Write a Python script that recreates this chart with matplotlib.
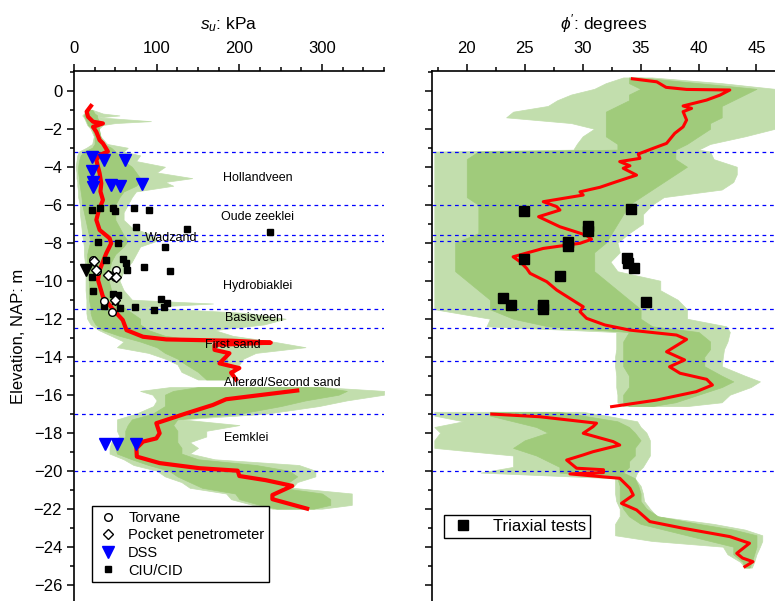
import matplotlib.pyplot as plt
from matplotlib.ticker import MultipleLocator
import numpy as np

plt.rcParams['font.family'] = ['Liberation Sans', 'DejaVu Sans']
plt.rcParams['mathtext.fontset'] = 'custom'
plt.rcParams['mathtext.it'] = 'Liberation Sans:italic'
plt.rcParams['mathtext.rm'] = 'Liberation Sans'

# layer boundaries (elevation, m NAP) and layer names
boundaries = [-3.2, -6.0, -7.6, -7.9, -11.5, -12.5, -14.2, -17.0, -20.0]
layer_names = ['Hollandveen', 'Oude zeeklei', 'Wadzand', 'Hydrobiaklei', 'Basisveen',
               'First sand', 'Allerød/Second sand', 'Eemklei']
layer_x = [222, 222, 118, 222, 218, 192, 252, 208]
layer_y = [-4.58, -6.63, -7.74, -10.28, -11.94, -13.37, -15.4, -18.26]

# ---- su: CPT profiles, outer envelope (lo/hi) and dense core (core_lo/core_hi)
su_band1_z = [-1.0, -1.2, -1.3, -1.4, -1.6, -1.7, -1.8, -2.0, -2.4, -2.8, -3.0, -3.2, -3.4, -3.7,
              -4.0, -4.3, -4.6, -4.8, -5.0, -5.3, -5.6, -6.0, -6.4, -6.8, -7.2, -7.6, -7.9, -8.2,
              -8.6, -9.0, -9.5, -10.0, -10.5, -11.0, -11.2, -11.4, -11.7, -12.0, -12.3, -12.6,
              -12.9, -13.2, -13.5, -13.8, -14.1, -14.4, -14.8, -15.2]
su_band1_lo = [18, 12, 10, 12, 14, 15, 16, 20, 24, 22, 15, 6, 4, 3, 2, 3, 3, 4, 4, 5, 5, 7, 7, 8,
               9, 10, 11, 12, 12, 13, 14, 14, 14, 15, 15, 15, 15, 16, 20, 30, 45, 60, 52, 90,
               110, 125, 130, 150]
su_band1_hi = [22, 35, 55, 30, 93, 50, 35, 30, 32, 40, 65, 60, 80, 75, 110, 100, 143, 110, 120,
               75, 70, 65, 60, 60, 70, 95, 100, 80, 75, 70, 60, 55, 60, 70, 168, 80, 210, 256,
               230, 170, 192, 240, 280, 220, 205, 200, 195, 185]
su_core1_lo = [18, 13, 12, 13, 15, 16, 17, 22, 25, 25, 22, 12, 8, 6, 5, 5, 6, 6, 7, 8, 9, 10, 12,
               14, 16, 18, 20, 18, 16, 16, 17, 18, 18, 18, 19, 20, 20, 22, 26, 35, 55, 80, 100,
               110, 125, 135, 150, 160]
su_core1_hi = [22, 25, 28, 28, 30, 32, 30, 30, 32, 36, 45, 50, 55, 60, 70, 75, 80, 80, 75, 60, 55,
               50, 50, 50, 55, 60, 65, 60, 50, 45, 42, 42, 45, 50, 55, 60, 70, 80, 80, 90, 110,
               160, 170, 180, 185, 185, 190, 185]

su_band2_z = [-15.6, -15.8, -16.0, -16.3, -16.6, -17.0, -17.3, -17.6, -17.9, -18.2, -18.5, -18.8,
              -19.1, -19.4, -19.7, -20.0, -20.3, -20.6, -20.9, -21.2, -21.5, -21.8, -22.0]
su_band2_lo = [116, 80, 95, 100, 96, 75, 52, 52, 52, 55, 45, 43, 43, 60, 72, 100, 110, 130, 140,
               184, 190, 216, 240]
su_band2_hi = [300, 375, 375, 330, 296, 232, 130, 200, 160, 160, 140, 150, 140, 170, 272, 292,
               292, 270, 264, 336, 336, 336, 300]
su_core2_lo = [150, 120, 110, 110, 110, 95, 70, 65, 62, 62, 55, 50, 52, 70, 90, 115, 125, 140,
               155, 195, 200, 225, 245]
su_core2_hi = [300, 330, 320, 280, 250, 200, 125, 120, 125, 125, 125, 130, 130, 150, 220, 260,
               270, 260, 250, 300, 310, 310, 290]

# su: mean profile (NaN = break)
su_mean_z = [-0.8, -1.1, -1.37, -1.63, -1.72, -1.9, -2.16, -2.6, -2.77, -3.2, -3.38, -3.65, -4.35,
             -4.87, -5.3, -5.75, -6.3, -6.8, -7.33, -7.76, -8.03, -8.56, -9.44, -9.96, -10.84,
             -11.5, -12.07, -12.6, -12.95, -13.09, -13.16, -13.26, -13.38, -13.64, -13.82,
             -14.35, -14.6, -14.84, -15.2, np.nan,
             -15.78, -16.24, -16.54, -16.98, -17.5, -18.03, -18.3, -18.47, -18.82, -19.26,
             -19.6, -19.87, -20.0, -20.28, -20.5, -20.8, -21.28, -21.5, -22.0]
su_mean = [20.5, 15.3, 17, 23, 35, 23, 27, 31, 35, 41, 31, 27, 31, 33, 32, 35, 30, 27, 31, 43, 45,
           39, 31, 29, 35, 47, 59, 63.5, 83.5, 111.7, 192, 238, 170, 170, 188, 176, 200, 190, 196,
           np.nan,
           270, 184, 168, 136, 99.6, 103.6, 99.6, 83.5, 75.5, 76, 103.6, 151.8, 198, 200, 232,
           264, 240, 240, 282]

# su: laboratory / field tests
torvane_su = [23, 27.3, 50.6, 49.4, 42.5, 36.5, 45.8]
torvane_z = [-8.92, -9.5, -9.42, -9.83, -9.7, -11.05, -11.63]
pocket_su = [24.5, 27, 41.3, 50.4, 49.4]
pocket_z = [-8.98, -9.46, -9.72, -9.83, -11.04]
dss_su = [22, 36.5, 61.4, 22, 23, 23, 44.6, 55.4, 82.7, 37.3, 52.2, 75.5]
dss_z = [-3.5, -3.62, -3.66, -4.24, -4.82, -5.09, -4.94, -5.0, -4.89, -18.62, -18.62, -18.62]
ciu_su = [22, 31, 46.6, 50, 72.3, 90.4, 75.5, 136.5, 237, 28.5, 53.4, 110.6, 38.5, 59.4, 63.4,
          84.5, 64.7, 116.5, 22.2, 23.3, 47.4, 53.8, 49, 105, 112.4, 108.4, 73.9, 96.4, 36.5, 55.4]
ciu_z = [-6.28, -6.19, -6.19, -6.31, -6.16, -6.28, -7.19, -7.3, -7.42, -7.98, -8.03, -8.2, -8.91,
         -8.84, -9.06, -9.3, -9.42, -9.48, -9.79, -10.56, -10.7, -10.77, -11.07, -10.98, -11.16,
         -11.37, -11.37, -11.54, -11.33, -11.44]

# ---- phi': CPT profiles, outer envelope and dense core
phi_band1_z = [0.7, 0.4, 0.1, -0.2, -0.5, -0.8, -1.1, -1.4, -1.7, -2.0, -2.4, -2.8, -3.1, -3.2,
               -3.6, -4.0, -4.4, -4.8, -5.2, -5.6, -6.0, -6.5, -7.0, -7.5, -8.0, -8.5, -9.0, -9.5,
               -10.0, -10.5, -11.0, -11.5, -12.0, -12.4, -12.7, -13.2, -13.6, -14.0, -14.5,
               -15.0, -15.3, -15.6, -16.0, -16.4, -16.6]
phi_band1_lo = [33.5, 32, 31, 29, 27.8, 27, 24, 23.4, 29, 31, 30, 29.5, 29.2, 17.2, 17.2, 17.2,
                17.2, 17.2, 17.2, 17.2, 17.2, 17.2, 17.2, 17.2, 17.2, 17.2, 17.2, 17.2, 17.2,
                17.2, 17.2, 17.2, 22, 21.7, 32.9, 32.9, 32.9, 32.8, 32.8, 32.9, 32.9, 32.9, 33,
                33, 33.5]
phi_band1_hi = [36, 42, 46.6, 46.6, 46.6, 46.6, 46.6, 46.6, 46.6, 46.6, 44, 41, 40, 41, 41.3,
                43.3, 43.3, 43, 42, 37, 36, 35.2, 35.2, 34, 33, 33.2, 32.4, 33, 36.7, 36.7, 38.2,
                39, 39, 42.4, 42.7, 42.5, 42.2, 42.1, 42, 44, 45.3, 44.5, 42.7, 42, 39]
phi_core1_lo = [34, 34, 35, 34, 34, 33, 32, 32, 32, 32, 32, 33, 33, 21, 20, 20, 20, 20, 20, 20,
                21, 21, 21, 21, 19, 19, 19, 19, 20, 21, 22, 22, 24, 27, 34, 33.5, 33.5, 33.5,
                33.5, 34, 34, 34, 33.5, 33.5, 34]
phi_core1_hi = [35, 40, 45, 44, 43, 42, 42, 42, 41, 41, 40, 39, 38, 38, 38, 39, 38, 37, 36, 35,
                34, 33.5, 33, 32.5, 32, 31, 31, 31, 32, 33, 34, 35, 35, 36, 40, 41, 41, 40.5,
                40.5, 42, 43, 42, 40, 38, 36]

phi_band2_z = [-16.9, -17.1, -17.4, -17.7, -18.0, -18.4, -18.8, -19.2, -19.5, -19.8, -20.1,
               -20.4, -20.8, -21.2, -21.6, -22.0, -22.4, -22.8, -23.1, -23.4, -23.7, -24.0,
               -24.4, -24.8, -25.1]
phi_band2_lo = [17.2, 17.2, 19.7, 17.2, 17.7, 17.2, 17.2, 24, 24, 24, 21.2, 32.8, 32.8, 32.8,
                32.9, 33.2, 33.2, 32.8, 32.8, 32.8, 36, 42.1, 42.5, 43.6, 44]
phi_band2_hi = [30, 32, 34.7, 35, 35.5, 35.8, 35.8, 35.8, 35.5, 35.2, 34.7, 34.5, 35, 35.2, 35.3,
                35.8, 36.4, 41.3, 44, 45.5, 45.5, 45.3, 45, 44.8, 44.6]
phi_core2_lo = [22, 22, 24, 26, 27, 25, 24, 26, 27, 28, 28, 33, 33.2, 33.2, 33.2, 33.5, 34, 35,
                37, 39, 41, 43, 43, 43.8, 44]
phi_core2_hi = [28, 30, 33, 34, 34.5, 35, 34.5, 34.5, 34, 34, 33.5, 34.5, 34.8, 35, 35, 35.5,
                36.5, 40, 43, 45, 45, 45, 44.8, 44.6, 44.4]

# phi': mean profile
phi_mean_z = [0.63, 0.47, 0.18, 0.07, 0.04, -0.23, -0.49, -0.8, -0.93, -1.1, -1.54, -1.9, -2.24,
              -2.77, -3.03, -3.33, -3.56, -3.73, -3.95, -4.08, -4.44, -4.79, -5.08, -5.32, -5.49,
              -5.84, -6.1, -6.28, -6.63, -7.16, -7.6, -7.82, -8.03, -8.3, -8.74, -9.0, -9.35,
              -9.61, -10.05, -10.49, -11.1, -11.37, -11.63, -11.98, -12.33, -12.6, -12.86,
              -13.09, -13.74, -14.17, -14.53, -14.87, -15.19, -15.49, -15.84, -16.28, -16.63,
              np.nan,
              -17.02, -17.16, -17.5, -17.68, -18.03, -18.47, -18.65, -19.0, -19.17, -19.44,
              -19.87, -19.95, -20.1, -20.17, -20.4, -20.93, -21.28, -21.72, -22.07, -22.68,
              -23.03, -23.47, -23.82, -24.35, -24.6, -24.79, -25.05]
phi_mean = [34.29, 36.4, 37.2, 38.97, 42.7, 41.85, 40.7, 38.67, 39.4, 38.67, 38.97, 38.67, 37.95,
            37.24, 36.09, 34.8, 34.94, 33.2, 34.08, 33.5, 34.65, 32.9, 31.5, 29.77, 30.05, 26.6,
            27.76, 28.04, 26.2, 28.04, 30.3, 30.77, 29.77, 26.6, 24.0, 24.6, 25.17, 25.46, 26.9,
            27.76, 29.34, 30.05, 29.77, 30.34, 31.92, 34.08, 38.1, 38.97, 37.24, 38.8, 37.5,
            38.4, 40.7, 41.2, 39.8, 36.4, 32.5,
            np.nan,
            22.16, 26.3, 31.2, 30.9, 30.05, 32.64, 33.2, 30.9, 30.05, 28.62, 29.48, 31.8, 31.8,
            28.9, 33.2, 34.08, 34.37, 33.35, 34.66, 35.8, 38.67, 42.7, 44.4, 43.3, 43.8, 44.7,
            44.0]

# phi': triaxial tests
triax_phi = [24.94, 34.16, 30.48, 30.5, 28.7, 28.7, 24.94, 33.86, 33.9, 34.45, 28.04, 23.1,
             23.8, 26.6, 26.6, 35.5]
triax_z = [-6.33, -6.24, -7.1, -7.38, -7.98, -8.18, -8.86, -8.82, -9.08, -9.35, -9.75, -10.93,
           -11.3, -11.26, -11.48, -11.1]

green = '#a0cb7b'
green_light = '#c2dead'
ytop, ybot = 1.04, -26.86

fig = plt.figure(figsize=(7.75, 6.01), dpi=100)
ax1 = fig.add_axes([74 / 775, 0, 310 / 775, 530 / 601])
ax2 = fig.add_axes([432 / 775, 0, 343 / 775, 530 / 601])

# left panel: undrained shear strength
ax1.fill_betweenx(su_band1_z, su_band1_lo, su_band1_hi, color=green_light, lw=0.5, zorder=1)
ax1.fill_betweenx(su_band2_z, su_band2_lo, su_band2_hi, color=green_light, lw=0.5, zorder=1)
ax1.fill_betweenx(su_band1_z, su_core1_lo, su_core1_hi, color=green, lw=0.5, zorder=1)
ax1.fill_betweenx(su_band2_z, su_core2_lo, su_core2_hi, color=green, lw=0.5, zorder=1)
ax1.plot(su_mean, su_mean_z, color='red', lw=3, zorder=3)
for b in boundaries:
    ax1.axhline(b, color='blue', lw=0.9, ls=(0, (3, 3)), zorder=2)
for name, x, y in zip(layer_names, layer_x, layer_y):
    ax1.text(x, y, name, fontsize=9, ha='center', va='center', zorder=4)

ax1.plot(torvane_su, torvane_z, 'o', mfc='white', mec='black', ms=5.5, mew=1, zorder=5,
         label='Torvane')
ax1.plot(pocket_su, pocket_z, 'D', mfc='white', mec='black', ms=5, mew=1, zorder=5,
         label='Pocket penetrometer')
ax1.plot(dss_su, dss_z, 'v', color='blue', ms=9, zorder=5, label='DSS')
ax1.plot(ciu_su, ciu_z, 's', color='black', ms=4.5, zorder=4, label='CIU/CID')
ax1.plot([14], [-9.44], 'v', color='black', ms=9, zorder=4)

ax1.set_xlim(0, 375)
ax1.xaxis.set_major_locator(MultipleLocator(100))
ax1.xaxis.set_minor_locator(MultipleLocator(25))
ax1.set_xlabel(r'$s_u$: kPa', fontsize=12.5, labelpad=8)
leg1 = ax1.legend(loc='lower left', bbox_to_anchor=(0.057, 0.036), borderaxespad=0,
                  fontsize=10.5, fancybox=False, edgecolor='black', framealpha=1,
                  labelspacing=0.25, handletextpad=0.6, borderpad=0.3, handlelength=1.6)
leg1.get_frame().set_linewidth(1)
ax1.set_ylabel('Elevation, NAP: m', fontsize=12)
ax1.yaxis.set_label_coords(-0.155, 0.5)

# right panel: friction angle
ax2.fill_betweenx(phi_band1_z, phi_band1_lo, phi_band1_hi, color=green_light, lw=0.5, zorder=1)
ax2.fill_betweenx(phi_band2_z, phi_band2_lo, phi_band2_hi, color=green_light, lw=0.5, zorder=1)
ax2.fill_betweenx(phi_band1_z, phi_core1_lo, phi_core1_hi, color=green, lw=0.5, zorder=1)
ax2.fill_betweenx(phi_band2_z, phi_core2_lo, phi_core2_hi, color=green, lw=0.5, zorder=1)
ax2.plot(phi_mean, phi_mean_z, color='red', lw=2.2, zorder=3)
for b in boundaries:
    ax2.axhline(b, color='blue', lw=0.9, ls=(0, (3, 3)), zorder=2)
ax2.plot(triax_phi, triax_z, 's', color='black', ms=7.5, zorder=5, label='Triaxial tests')

ax2.set_xlim(17, 46.6)
ax2.xaxis.set_major_locator(MultipleLocator(5))
ax2.xaxis.set_minor_locator(MultipleLocator(2.5))
ax2.set_xlabel(r"$\phi'$: degrees", fontsize=12.5, labelpad=8)
leg2 = ax2.legend(loc='lower left', bbox_to_anchor=(0.035, 0.119), borderaxespad=0,
                  fontsize=12, fancybox=False, edgecolor='black', framealpha=1,
                  handletextpad=0.9, borderpad=0.25, handlelength=1.8)
leg2.get_frame().set_linewidth(1)
ax2.tick_params(axis='y', labelleft=False)

for ax in (ax1, ax2):
    ax.set_ylim(ybot, ytop)
    ax.yaxis.set_major_locator(MultipleLocator(2))
    ax.yaxis.set_minor_locator(MultipleLocator(1))
    ax.xaxis.tick_top()
    ax.xaxis.set_label_position('top')
    ax.spines['bottom'].set_visible(False)
    ax.spines['right'].set_visible(False)
    ax.spines['top'].set_linewidth(1.2)
    ax.spines['left'].set_linewidth(1.2)
    ax.tick_params(which='major', direction='out', length=5, width=1.1, labelsize=12)
    ax.tick_params(which='minor', direction='out', length=2.8, width=1.1)
    ax.tick_params(axis='x', which='major', pad=6)

fig.savefig('out.png', dpi=100)
